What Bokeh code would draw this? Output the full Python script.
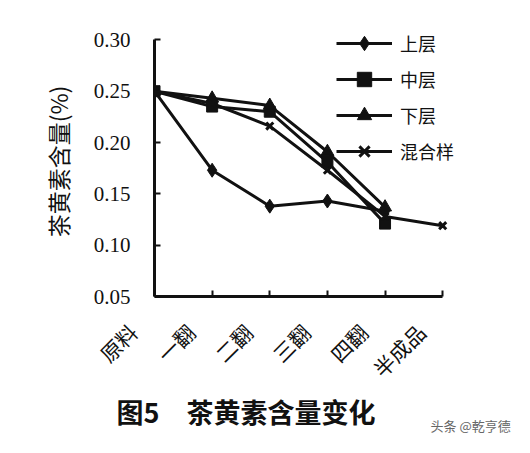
import math
from bokeh.plotting import figure
from bokeh.models import FixedTicker, Legend, LegendItem, Title
from bokeh.embed import file_html
from bokeh.resources import INLINE

stages = ["原料", "一翻", "二翻", "三翻", "四翻", "半成品"]
nan = float("nan")
upper = [0.250, 0.173, 0.138, 0.143, 0.133, nan]
middle = [0.250, 0.235, 0.230, 0.181, 0.121, nan]
lower = [0.250, 0.243, 0.236, 0.191, 0.137, nan]
mixed = [0.250, 0.238, 0.216, 0.173, 0.128, 0.119]
yticks = [0.05, 0.10, 0.15, 0.20, 0.25, 0.30]

xs = list(range(len(stages)))
ink = "#111111"

p = figure(width=514, height=437, output_backend="svg", toolbar_location=None,
           x_range=(0, 5.5), y_range=(0.05, 0.313),
           min_border_left=154, min_border_right=43, min_border_top=26, min_border_bottom=141)
p.outline_line_color = None
p.grid.grid_line_color = None

for ax in (p.xaxis[0], p.yaxis[0]):
    ax.axis_line_width = 3
    ax.axis_line_color = ink
    ax.major_tick_line_width = 2
    ax.major_tick_line_color = ink
    ax.major_tick_in = 6
    ax.major_tick_out = 0
    ax.minor_tick_line_color = None

p.xaxis.bounds = (0, 5)
p.yaxis.bounds = (0.05, 0.30)

p.yaxis.ticker = FixedTicker(ticks=yticks)
p.yaxis.major_label_overrides = {t: f"{t:.2f}" for t in yticks}
p.yaxis.major_label_text_font = "Liberation Serif"
p.yaxis.major_label_text_font_size = "21px"
p.yaxis.major_label_text_color = ink
p.yaxis.major_label_standoff = 24
p.yaxis.axis_label = "茶黄素含量(%)"
p.yaxis.axis_label_text_font = "Noto Sans CJK SC"
p.yaxis.axis_label_text_font_style = "normal"
p.yaxis.axis_label_text_font_size = "23px"
p.yaxis.axis_label_text_color = ink
p.yaxis.axis_label_standoff = 16

p.xaxis.ticker = FixedTicker(ticks=xs)
p.xaxis.major_label_overrides = {i: s + "\u3000  " for i, s in enumerate(stages)}
p.xaxis.major_label_orientation = math.pi / 4
p.xaxis.major_label_text_font = "Noto Sans CJK SC"
p.xaxis.major_label_text_font_size = "21px"
p.xaxis.major_label_text_color = ink
p.xaxis.major_label_standoff = 10

items = []
specs = [("上层", upper, "diamond", 14), ("中层", middle, "square", 11),
         ("下层", lower, "triangle", 13), ("混合样", mixed, "x", 10)]
for name, ys, marker, size in specs:
    ln = p.line(xs, ys, line_color=ink, line_width=3)
    sc = p.scatter(xs, ys, marker=marker, size=size, fill_color=ink, line_color=ink,
                   line_width=3 if marker == "x" else 1)
    items.append(LegendItem(label=name, renderers=[ln, sc]))

legend = Legend(items=items, location=(182, 127), orientation="vertical",
                background_fill_alpha=0, border_line_color=None,
                padding=0, margin=0, spacing=0, glyph_width=56, glyph_height=36,
                label_height=36, label_standoff=8,
                label_text_font="Noto Sans CJK SC", label_text_font_size="18px",
                label_text_color=ink)
p.add_layout(legend, "center")

p.add_layout(Title(text="图5　茶黄素含量变化", text_font="Noto Sans CJK SC",
                   text_font_style="bold", text_font_size="27px", text_color=ink,
                   align="left", offset=-38, standoff=-14), "below")
p.add_layout(Title(text="头条 @乾亨德", text_font="Noto Sans CJK SC",
                   text_font_style="normal", text_font_size="13px", text_color="#666666",
                   align="left", offset=276, standoff=-22), "below")

open("out.html", "w").write(file_html(p, INLINE))
